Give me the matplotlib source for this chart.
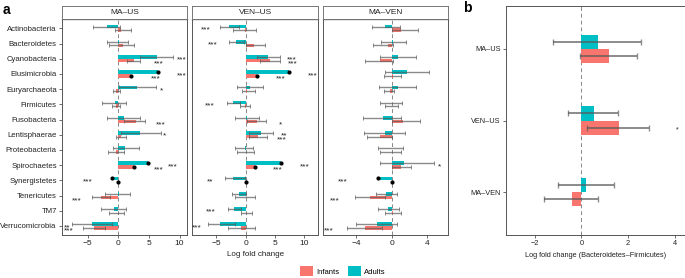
import numpy as np
import matplotlib
matplotlib.use("Agg")
import matplotlib.pyplot as plt
from matplotlib.patches import Patch

plt.rcParams['font.family'] = ['Liberation Sans', 'DejaVu Sans']

taxa = ["Actinobacteria", "Bacteroidetes", "Cyanobacteria", "Elusimicrobia",
        "Euryarchaeota", "Firmicutes", "Fusobacteria", "Lentisphaerae",
        "Proteobacteria", "Spirochaetes", "Synergistetes", "Tenericutes",
        "TM7", "Verrucomicrobia"]
comparisons = ["MA\u2013US", "VEN\u2013US", "MA\u2013VEN"]

# MA-US
mus_adults = [-1.9, 0.05, 6.3, 6.4, 3.0, -0.6, 1.0, 3.5, 1.1, 4.9, -1.0, 0.05, -0.7, -4.3]
mus_adults_ci = [(-4.2, 0.2), (-1.9, 1.6), (3.5, 9.0), None, (0.1, 6.1), (-2.6, 1.3), (-1.8, 3.5),
                 (0.5, 6.9), (-0.9, 3.3), None, None, (-2.1, 1.9), (-2.8, 1.2), (-7.5, -1.0)]
mus_adults_sig = ["", "", "***", "***", "*", "", "", "*", "", "***", "***", "", "", "**"]
mus_infants = [0.5, 0.8, 2.6, 2.1, -0.3, -0.3, 2.9, 0.5, -0.3, 2.6, 0.0, -2.8, -0.1, -4.0]
mus_infants_ci = [(-0.6, 2.1), (-1.5, 2.5), (1.4, 3.6), None, (-0.8, 0.3), (-1.0, 0.3), (0.9, 4.3),
                  (-0.3, 1.2), (-1.6, 0.9), None, None, (-4.3, -1.3), (-1.5, 0.9), (-5.8, -2.2)]
mus_infants_sig = ["", "", "***", "***", "", "", "***", "", "", "***", "", "***", "", "***"]

# VEN-US
vus_adults = [-2.8, -1.65, 3.85, 7.4, 0.7, -2.2, 0.2, 2.6, -0.2, 6.0, -2.1, -1.15, -2.0, -4.3]
vus_adults_ci = [(-4.3, -1.2), (-2.9, -0.3), (2.0, 5.8), None, (-1.5, 3.0), (-3.2, -1.0), (-1.9, 2.3),
                 (0.5, 4.7), (-1.9, 1.2), None, (-3.6, -0.2), (-2.3, 0.1), (-3.1, -0.8), (-6.5, -1.8)]
vus_adults_sig = ["***", "***", "***", "***", "", "***", "", "**", "", "***", "**", "", "***", "***"]
vus_infants = [-0.2, 1.4, 4.1, 2.0, 0.3, -0.1, 1.9, 2.1, 0.0, 1.5, 0.0, 0.0, 0.0, -0.85]
vus_infants_ci = [(-2.2, 1.75), (0.0, 3.3), (2.5, 5.8), None, (-0.7, 1.6), (-1.0, 0.7), (0.2, 3.5),
                  (0.5, 3.7), (-1.4, 1.4), None, None, (-1.8, 1.6), (-0.8, 1.0), (-3.0, 1.5)]
vus_infants_sig = ["", "", "***", "***", "", "", "*", "***", "", "***", "", "", "", ""]

# MA-VEN
mve_adults = [-0.7, 0.2, 0.7, 1.7, 0.7, 0.0, -1.0, -0.8, 0.0, 1.4, -1.5, -0.6, -0.4, -1.7]
mve_adults_ci = [(-2.25, 0.9), (-1.2, 1.6), (-1.3, 2.7), (-0.8, 4.2), (-1.4, 2.7), (-1.3, 1.2), (-3.2, 1.0),
                 (-3.1, 1.5), (-1.5, 1.3), (-1.3, 4.7), None, (-1.8, 0.6), (-1.5, 0.8), (-4.0, 0.6)]
mve_adults_sig = ["", "", "", "", "", "", "", "", "", "*", "***", "", "", ""]
mve_infants = [1.1, -0.4, -1.3, 0.1, -0.2, 0.0, 1.3, -1.3, 0.0, 1.1, 0.0, -2.4, 0.2, -3.05]
mve_infants_ci = [(0.0, 2.9), (-2.1, 0.1), (-3.0, 0.1), (-0.9, 1.1), (-0.9, 0.3), (-0.7, 0.7), (0.0, 3.2),
                  (-2.8, 0.0), (-1.3, 1.1), (0.0, 2.2), None, (-4.1, -0.8), (-0.7, 1.1), (-5.0, -1.1)]
mve_infants_sig = ["", "", "", "", "", "", "", "", "", "", "", "***", "", "***"]

# panel b: Bacteroidetes-Firmicutes ratio
b_adults = [0.71, 0.53, 0.18]
b_adults_ci = [(-1.22, 2.57), (-0.57, 1.59), (-1.03, 1.39)]
b_adults_sig = ["", "", ""]
b_infants = [1.18, 1.6, -0.43]
b_infants_ci = [(-0.05, 2.39), (0.24, 2.89), (-1.6, 0.73)]
b_infants_sig = ["", "*", ""]

adult_col = "#00BFC4"
infant_col = "#F8766D"
err_col = "#5a5a5a"
frame_col = "#555555"

fig = plt.figure(figsize=(6.85, 2.78), dpi=100)
W, H = 685.0, 278.0


def px_axes(x0, y0, x1, y1):
    return fig.add_axes([x0 / W, 1 - y1 / H, (x1 - x0) / W, (y1 - y0) / H])


def style_axes(ax):
    for s in ax.spines.values():
        s.set_color(frame_col)
        s.set_linewidth(0.7)
    ax.tick_params(length=2, width=0.5, color="#333333", labelsize=6, pad=1.5, labelcolor="#222222")


def draw_group(ax, pos, vals, cis, sigs, color, h, star_off, lw, capsize, star_size=6):
    ax.barh(pos, vals, height=h, color=color, edgecolor="none", zorder=2)
    for p, v, ci, s in zip(pos, vals, cis, sigs):
        if ci is None:
            ax.plot(v, p, "o", color="black", ms=2, zorder=4)
        else:
            lo, hi = ci
            ax.errorbar((lo + hi) / 2, p, xerr=(hi - lo) / 2, fmt="none", ecolor=err_col,
                        elinewidth=lw, capsize=capsize, capthick=lw * 0.7, alpha=0.7, zorder=3)
        if s:
            sx = v + star_off if v >= 0 else v - star_off
            # asterisks sit high in the em box, so drop the baseline a bit
            ax.annotate(s, (sx, p), xytext=(0, -0.58 * star_size), textcoords="offset points",
                        ha="center", va="baseline", fontsize=star_size, color="#222222")


panel_px = [(61.7, 187.3), (192.3, 318.3), (322.7, 448.3)]
xlims = [(-9.23, 11.26), (-9.1, 12.37), (-7.75, 6.36)]
xticks = [[-5, 0, 5, 10], [-5, 0, 5, 10], [-4, 0, 4]]
facet_data = [
    (mus_adults, mus_adults_ci, mus_adults_sig, mus_infants, mus_infants_ci, mus_infants_sig),
    (vus_adults, vus_adults_ci, vus_adults_sig, vus_infants, vus_infants_ci, vus_infants_sig),
    (mve_adults, mve_adults_ci, mve_adults_sig, mve_infants, mve_infants_ci, mve_infants_sig),
]

y = np.arange(len(taxa))
bh = 0.24
for k, (x0, x1) in enumerate(panel_px):
    ax = px_axes(x0, 19.3, x1, 235)
    a_v, a_ci, a_s, i_v, i_ci, i_s = facet_data[k]
    draw_group(ax, y - bh / 2, a_v, a_ci, a_s, adult_col, bh, 4.0, 1.0, 1.2)
    draw_group(ax, y + bh / 2, i_v, i_ci, i_s, infant_col, bh, 4.0, 1.0, 1.2)
    ax.axvline(0, color="#888888", ls=(0, (4, 3)), lw=0.7, zorder=1)
    ax.set_xlim(*xlims[k])
    ax.set_ylim(len(taxa) - 0.4, -0.6)
    ax.set_xticks(xticks[k])
    style_axes(ax)
    ax.spines["top"].set_color("#222222")
    ax.spines["top"].set_linewidth(0.9)
    if k == 0:
        ax.set_yticks(y)
        ax.set_yticklabels(taxa, fontsize=5.6)
    else:
        ax.set_yticks([])
    if k == 1:
        ax.set_xlabel("Log fold change", fontsize=5.8, labelpad=3, color="#222222")
    # facet strip
    st = px_axes(x0, 6, x1, 19.3)
    st.set_xticks([])
    st.set_yticks([])
    for s in st.spines.values():
        s.set_color("#777777")
        s.set_linewidth(0.7)
    st.text(0.5, 0.5, comparisons[k], ha="center", va="center", fontsize=6, color="#222222",
            transform=st.transAxes)

# panel b
axb = px_axes(505.7, 6, 684.5, 235)
yb = np.arange(len(comparisons))
hb = 0.2
draw_group(axb, yb - hb / 2, b_adults, b_adults_ci, b_adults_sig, adult_col, hb, 2.5, 1.4, 2.5, 5)
draw_group(axb, yb + hb / 2, b_infants, b_infants_ci, b_infants_sig, infant_col, hb, 2.5, 1.4, 2.5, 5)
axb.axvline(0, color="#888888", ls=(0, (4, 3)), lw=0.7, zorder=1)
axb.set_xlim(-3.26, 4.43)
axb.set_ylim(len(comparisons) - 0.4, -0.6)
axb.set_xticks([-2, 0, 2, 4])
axb.set_yticks(yb)
axb.set_yticklabels(comparisons)
style_axes(axb)
axb.tick_params(labelsize=5.3)
axb.set_xlabel("Log fold change (Bacteroidetes\u2013Firmicutes)", fontsize=5.3, labelpad=4, color="#222222")

fig.text(3 / W, 1 - 10 / H, "a", fontsize=10, fontweight="bold", va="center")
fig.text(463 / W, 1 - 8 / H, "b", fontsize=10, fontweight="bold", va="center")

fig.legend(handles=[Patch(fc=infant_col, label="Infants"), Patch(fc=adult_col, label="Adults")],
           loc="center", bbox_to_anchor=(343 / W, 1 - 271 / H), ncol=2, frameon=False,
           fontsize=5.5, handlelength=1.7, handleheight=1.6, columnspacing=1.2, handletextpad=0.4)

fig.savefig("out.png", dpi=100)
